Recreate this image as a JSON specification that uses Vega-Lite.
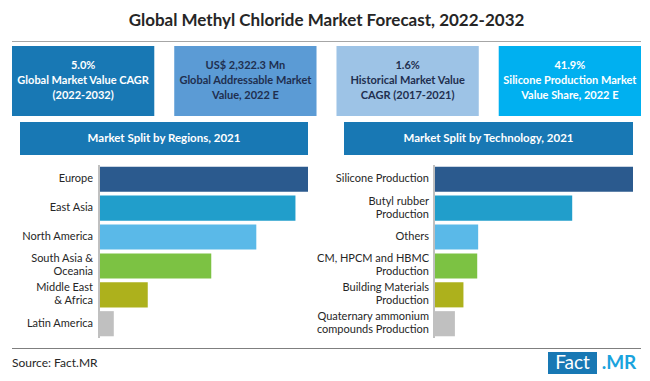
{
  "$schema": "https://vega.github.io/schema/vega-lite/v6.json",
  "background": "white",
  "padding": {"left": 12, "top": 12, "right": 0, "bottom": 0},
  "title": {"text": "Global Methyl Chloride Market Forecast, 2022-2032", "fontSize": 17, "fontWeight": "bold", "font": "Lato", "color": "#262626", "anchor": "middle", "offset": 11},
  "config": {"view": {"stroke": null}, "font": "Lato"},
  "center": true,
  "spacing": 6,
  "vconcat": [
    {
      "spacing": 4,
      "center": true,
      "vconcat": [
        {"width": 629, "height": 1, "data": {"values": [{}]}, "mark": {"type": "rect", "color": "#a6a6a6"}, "encoding": {}},
        {
          "width": 629,
          "height": 70,
          "data": {"values": [
            {"kpi": "k1", "label": ["5.0%", "Global Market Value CAGR", "(2022-2032)"]},
            {"kpi": "k2", "label": ["US$ 2,322.3 Mn", "Global Addressable Market", "Value, 2022 E"]},
            {"kpi": "k3", "label": ["1.6%", "Historical Market Value", "CAGR (2017-2021)"]},
            {"kpi": "k4", "label": ["41.9%", "Silicone Production Market", "Value Share, 2022 E"]}
          ]},
          "encoding": {"x": {"field": "kpi", "type": "nominal", "axis": null, "sort": null, "scale": {"paddingInner": 0.123, "paddingOuter": 0}}},
          "layer": [
            {"mark": {"type": "rect"}, "encoding": {"color": {"field": "kpi", "type": "nominal", "legend": null, "scale": {"domain": ["k1", "k2", "k3", "k4"], "range": ["#1878b4", "#5b9bd5", "#9dc3e6", "#00b0f0"]}}}},
            {"mark": {"type": "text", "fontSize": 11, "fontWeight": "bold", "lineHeight": 15, "dy": -15}, "encoding": {"text": {"field": "label"}, "color": {"field": "kpi", "type": "nominal", "legend": null, "scale": {"domain": ["k1", "k2", "k3", "k4"], "range": ["#ffffff", "#1f2f4f", "#1f2f4f", "#ffffff"]}}}}
          ],
          "resolve": {"scale": {"color": "independent"}}
        }
      ]
    },
    {
      "spacing": 9,
      "center": true,
      "vconcat": [
        {
          "spacing": 8,
          "hconcat": [
            {
              "spacing": 9,
              "vconcat": [
                {"width": 288, "height": 33, "view": {"fill": "#1878b4"}, "data": {"values": [{"t": "Market Split by Regions, 2021"}]}, "mark": {"type": "text", "color": "white", "fontWeight": "bold", "fontSize": 11.5}, "encoding": {"text": {"field": "t"}}},
                {
                  "width": 288,
                  "height": 173,
                  "data": {"values": [
                    {"region": "Europe", "label": ["Europe"], "share": 28.3},
                    {"region": "East Asia", "label": ["East Asia"], "share": 26.6},
                    {"region": "North America", "label": ["North America"], "share": 21.3},
                    {"region": "South Asia & Oceania", "label": ["South Asia &", "Oceania"], "share": 15.2},
                    {"region": "Middle East & Africa", "label": ["Middle East", "& Africa"], "share": 6.6},
                    {"region": "Latin America", "label": ["Latin America"], "share": 2.0}
                  ]},
                  "encoding": {
                    "y": {"field": "region", "type": "nominal", "sort": null, "axis": null, "scale": {"domain": ["Europe", "East Asia", "North America", "South Asia & Oceania", "Middle East & Africa", "Latin America"], "paddingInner": 0.13, "paddingOuter": 0.06}}
                  },
                  "layer": [
                    {
                      "mark": {"type": "bar"},
                      "encoding": {
                        "x": {"field": "share", "type": "quantitative", "axis": null, "scale": {"domain": [-10.7, 28.3], "nice": false}},
                        "color": {"field": "region", "type": "nominal", "legend": null, "scale": {"domain": ["Europe", "East Asia", "North America", "South Asia & Oceania", "Middle East & Africa", "Latin America"], "range": ["#2b5a8e", "#219ecb", "#5ab9e8", "#7cc243", "#adb11c", "#c0c0c0"]}}
                      }
                    },
                    {
                      "mark": {"type": "rule", "color": "#bfbfbf"},
                      "encoding": {"x": {"datum": 0, "type": "quantitative", "axis": null, "scale": {"domain": [-10.7, 28.3], "nice": false}}, "y": null}
                    },
                    {
                      "transform": [{"filter": "length(datum.label) == 1"}],
                      "mark": {"type": "text", "align": "right", "dx": -6, "fontSize": 11, "color": "#262626", "lineHeight": 13},
                      "encoding": {"x": {"datum": 0, "type": "quantitative", "axis": null, "scale": {"domain": [-10.7, 28.3], "nice": false}}, "text": {"field": "label"}}
                    },
                    {
                      "transform": [{"filter": "length(datum.label) == 2"}],
                      "mark": {"type": "text", "align": "right", "dx": -6, "dy": -6.5, "fontSize": 11, "color": "#262626", "lineHeight": 13},
                      "encoding": {"x": {"datum": 0, "type": "quantitative", "axis": null, "scale": {"domain": [-10.7, 28.3], "nice": false}}, "text": {"field": "label"}}
                    }
                  ]
                }
              ]
            },
            {
              "spacing": 9,
              "vconcat": [
                {"width": 289, "height": 33, "view": {"fill": "#1878b4"}, "data": {"values": [{"t": "Market Split by Technology, 2021"}]}, "mark": {"type": "text", "color": "white", "fontWeight": "bold", "fontSize": 11.5}, "encoding": {"text": {"field": "t"}}},
                {
                  "width": 289,
                  "height": 173,
                  "data": {"values": [
                    {"tech": "Silicone Production", "label": ["Silicone Production"], "share": 41.9},
                    {"tech": "Butyl rubber Production", "label": ["Butyl rubber", "Production"], "share": 29.1},
                    {"tech": "Others", "label": ["Others"], "share": 9.3},
                    {"tech": "CM, HPCM and HBMC Production", "label": ["CM, HPCM and HBMC", "Production"], "share": 9.1},
                    {"tech": "Building Materials Production", "label": ["Building Materials", "Production"], "share": 6.2},
                    {"tech": "Quaternary ammonium compounds Production", "label": ["Quaternary ammonium", "compounds Production"], "share": 4.4}
                  ]},
                  "encoding": {
                    "y": {"field": "tech", "type": "nominal", "sort": null, "axis": null, "scale": {"domain": ["Silicone Production", "Butyl rubber Production", "Others", "CM, HPCM and HBMC Production", "Building Materials Production", "Quaternary ammonium compounds Production"], "paddingInner": 0.13, "paddingOuter": 0.06}}
                  },
                  "layer": [
                    {
                      "mark": {"type": "bar"},
                      "encoding": {
                        "x": {"field": "share", "type": "quantitative", "axis": null, "scale": {"domain": [-18.95, 41.9], "nice": false}},
                        "color": {"field": "tech", "type": "nominal", "legend": null, "scale": {"domain": ["Silicone Production", "Butyl rubber Production", "Others", "CM, HPCM and HBMC Production", "Building Materials Production", "Quaternary ammonium compounds Production"], "range": ["#2b5a8e", "#219ecb", "#5ab9e8", "#7cc243", "#adb11c", "#c0c0c0"]}}
                      }
                    },
                    {
                      "mark": {"type": "rule", "color": "#bfbfbf"},
                      "encoding": {"x": {"datum": 0, "type": "quantitative", "axis": null, "scale": {"domain": [-18.95, 41.9], "nice": false}}, "y": null}
                    },
                    {
                      "transform": [{"filter": "length(datum.label) == 1"}],
                      "mark": {"type": "text", "align": "right", "dx": -5, "fontSize": 11, "color": "#262626", "lineHeight": 13},
                      "encoding": {"x": {"datum": 0, "type": "quantitative", "axis": null, "scale": {"domain": [-18.95, 41.9], "nice": false}}, "text": {"field": "label"}}
                    },
                    {
                      "transform": [{"filter": "length(datum.label) == 2"}],
                      "mark": {"type": "text", "align": "right", "dx": -5, "dy": -6.5, "fontSize": 11, "color": "#262626", "lineHeight": 13},
                      "encoding": {"x": {"datum": 0, "type": "quantitative", "axis": null, "scale": {"domain": [-18.95, 41.9], "nice": false}}, "text": {"field": "label"}}
                    }
                  ]
                }
              ]
            }
          ]
        },
        {
          "spacing": 3,
          "vconcat": [
            {"width": 629, "height": 1, "data": {"values": [{}]}, "mark": {"type": "rect", "color": "#7f7f7f"}, "encoding": {}},
            {
              "spacing": 0,
              "hconcat": [
                {"width": 536, "height": 22, "data": {"values": [{"t": "Source: Fact.MR"}]}, "mark": {"type": "text", "align": "left", "fontSize": 12, "color": "#262626"}, "encoding": {"text": {"field": "t"}, "x": {"value": 0}}},
                {"width": 49, "height": 22, "view": {"fill": "#1878b4"}, "data": {"values": [{"t": "Fact"}]}, "mark": {"type": "text", "fontSize": 19, "color": "white"}, "encoding": {"text": {"field": "t"}}},
                {"width": 44, "height": 22, "data": {"values": [{"t": ".MR"}]}, "mark": {"type": "text", "fontSize": 19, "fontWeight": "bold", "color": "#1aa3dd"}, "encoding": {"text": {"field": "t"}}}
              ]
            }
          ]
        }
      ]
    }
  ]
}
